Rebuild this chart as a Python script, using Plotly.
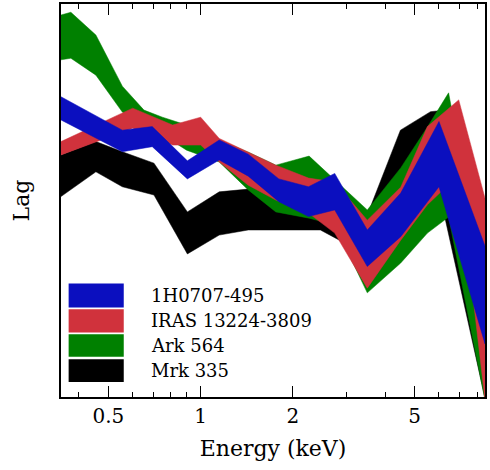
import math
import plotly.graph_objects as go

# ---- data (arbitrary lag units, energies in keV) ----
names = ["1H0707-495", "IRAS 13224-3809", "Ark 564", "Mrk 335"]
colors = ["#0b0fbf", "#d0323c", "#008000", "#000000"]

e_1h = [0.35, 0.555, 0.695, 0.905, 1.15, 1.43, 1.80, 2.25, 2.74, 3.50, 4.50, 6.0, 8.48]
hi_1h = [76.4, 67.9, 68.8, 60.1, 65.4, 61.8, 55.5, 53.5, 56.9, 42.5, 51.9, 70.1, 38.4]
lo_1h = [70.5, 62.4, 63.7, 55.5, 60.3, 56.2, 49.7, 45.9, 47.6, 33.2, 40.8, 53.5, 13.5]

e_iras = [0.35, 0.60, 0.81, 1.0, 1.15, 1.43, 1.76, 2.25, 2.74, 3.50, 4.50, 5.5, 6.96, 8.48]
hi_iras = [65.0, 73.5, 69.2, 71.2, 65.8, 62.3, 59.0, 55.7, 54.7, 45.0, 53.4, 68.8, 75.6, 50.6]
lo_iras = [61.6, 68.4, 64.1, 64.1, 59.8, 53.9, 50.1, 46.8, 41.7, 27.7, 39.9, 48.9, 56.5, -0.8]

e_ark = [0.35, 0.377, 0.455, 0.555, 0.653, 0.75, 0.90, 1.15, 1.43, 1.76, 2.26, 2.74, 3.50, 4.50, 5.5, 6.45, 8.48]
hi_ark = [97.2, 97.9, 92.1, 79.1, 73.0, 71.2, 69.2, 65.4, 62.3, 59.0, 61.3, 55.2, 47.6, 58.3, 68.7, 77.4, 27.2]
lo_ark = [85.8, 86.2, 81.9, 72.5, 68.7, 66.7, 62.8, 59.8, 52.7, 47.1, 45.5, 43.8, 26.5, 34.1, 41.7, 45.8, -0.8]

e_mrk = [0.35, 0.455, 0.555, 0.704, 0.905, 1.15, 1.43, 2.46, 3.50, 4.49, 5.63, 6.30, 8.48]
hi_mrk = [61.6, 65.0, 62.4, 59.5, 47.1, 52.2, 52.9, 53.2, 46.3, 67.9, 72.6, 73.0, 24.7]
lo_mrk = [51.0, 57.3, 53.5, 51.4, 36.4, 41.2, 42.5, 42.5, 36.1, 48.9, 48.9, 45.0, -0.3]

x_ticks = [0.5, 1, 2, 5]
x_tick_labels = ["0.5", "1", "2", "5"]
x_minor = [0.4, 0.6, 0.7, 0.8, 0.9, 3, 4, 6, 7, 8]
x_range = [0.35, 8.48]
y_range = [0, 100]

bands = [
    (e_1h, hi_1h, lo_1h),
    (e_iras, hi_iras, lo_iras),
    (e_ark, hi_ark, lo_ark),
    (e_mrk, hi_mrk, lo_mrk),
]

FONT = "DejaVu Serif"

fig = go.Figure()
# draw bottom-most first (Mrk 335), top-most last (1H0707-495)
for i in [3, 2, 1, 0]:
    e, hi, lo = bands[i]
    fig.add_trace(go.Scatter(
        x=list(e) + list(e)[::-1],
        y=list(hi) + list(lo)[::-1],
        fill="toself", fillcolor=colors[i],
        line=dict(color=colors[i], width=0.5),
        mode="lines", name=names[i], showlegend=False,
        hoverinfo="skip",
    ))

fig.update_xaxes(
    type="log", range=[math.log10(x_range[0]), math.log10(x_range[1])],
    tickvals=x_ticks, ticktext=x_tick_labels,
    ticks="inside", ticklen=11, tickwidth=1.3, tickcolor="black",
    minor=dict(tickvals=x_minor, ticks="inside", ticklen=5, tickwidth=1.2, tickcolor="black"),
    showline=True, linecolor="black", linewidth=1.5, mirror="allticks",
    showgrid=False, zeroline=False, automargin=False,
    tickfont=dict(family=FONT, size=20, color="black"),
    title=dict(text="Energy (keV)", font=dict(family=FONT, size=22, color="black"), standoff=14),
)
fig.update_yaxes(
    range=y_range, showticklabels=False, ticks="",
    showline=True, linecolor="black", linewidth=1.5, mirror=True,
    showgrid=False, zeroline=False, automargin=False,
    title=dict(text="Lag", font=dict(family=FONT, size=22, color="black"), standoff=24),
)

# manual legend (big colour blocks)
leg_y_top = [0.289, 0.2233, 0.1597, 0.096]
leg_y_bot = [0.2275, 0.164, 0.1026, 0.038]
for i in range(4):
    fig.add_shape(type="rect", xref="paper", yref="paper",
                  x0=0.018, x1=0.148, y0=leg_y_bot[i], y1=leg_y_top[i],
                  fillcolor=colors[i], line=dict(width=0), layer="above")
    fig.add_annotation(xref="paper", yref="paper", x=0.207,
                       y=(leg_y_bot[i] + leg_y_top[i]) / 2,
                       text=names[i], showarrow=False, xanchor="left", yanchor="middle",
                       font=dict(family=FONT, size=18, color="black"))

fig.update_layout(
    width=490, height=470,
    margin=dict(l=61, r=5, t=4, b=73, autoexpand=False),
    plot_bgcolor="white", paper_bgcolor="white",
    showlegend=False,
    font=dict(family=FONT),
)
fig.write_html("out.html", config={"displayModeBar": False},
               post_script="document.body.style.margin='0';")
